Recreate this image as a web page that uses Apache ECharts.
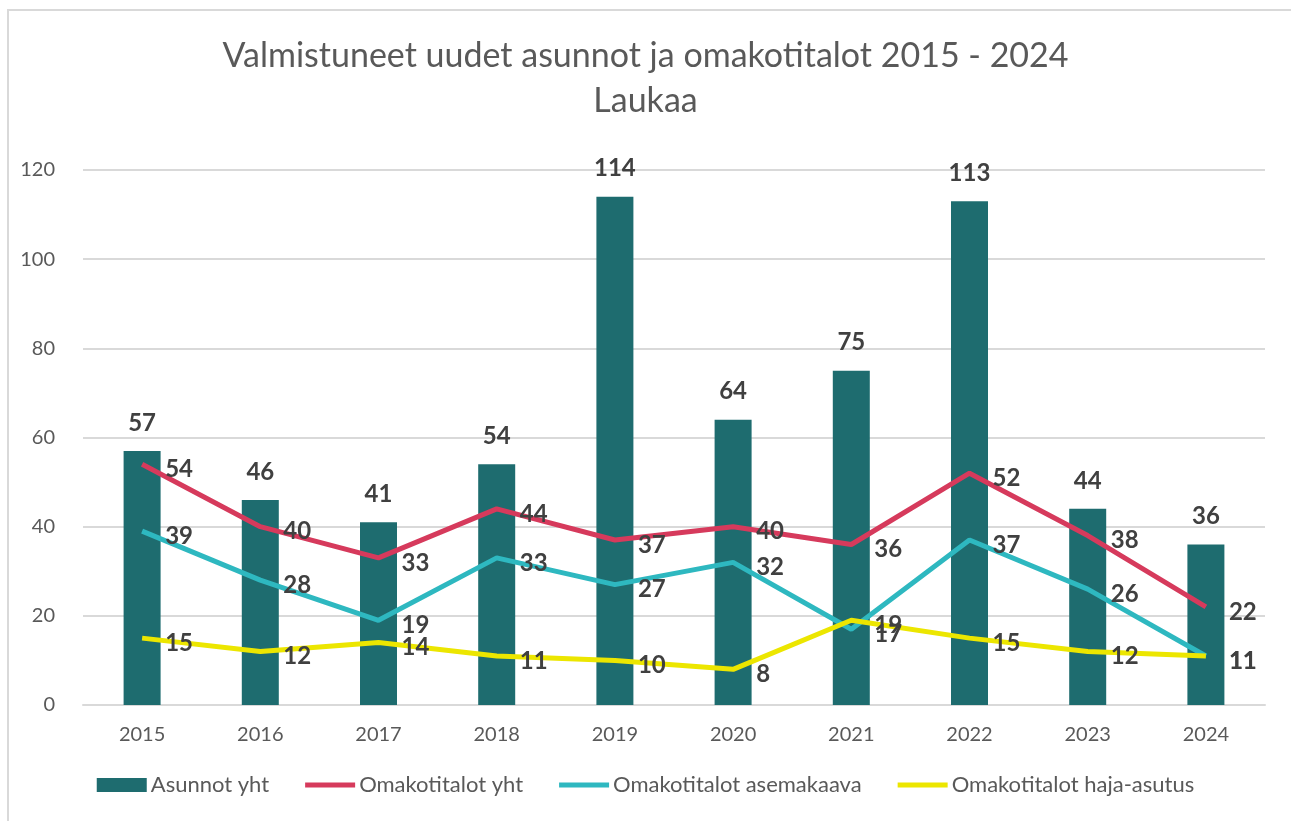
<!DOCTYPE html>
<html>
<head>
<meta charset="utf-8">
<script src="https://cdn.jsdelivr.net/npm/echarts@6/dist/echarts.min.js"></script>
<style>
  html, body { margin: 0; padding: 0; background: #fff; }
  #frame {
    position: absolute; left: 7px; top: 9px; width: 1284px; height: 812px;
    border-left: 2px solid #d9d9d9; border-top: 2px solid #d9d9d9;
  }
  #el { position: absolute; left: 0; top: 0; width: 1291px; height: 821px; }
</style>
</head>
<body>
<div id="frame"></div>
<div id="el"></div>
<script>
// data
const years = ['2015', '2016', '2017', '2018', '2019', '2020', '2021', '2022', '2023', '2024']
const asunnotYht = [57, 46, 41, 54, 114, 64, 75, 113, 44, 36]
const omakotiYht = [54, 40, 33, 44, 37, 40, 36, 52, 38, 22]
const omakotiAsemakaava = [39, 28, 19, 33, 27, 32, 17, 37, 26, 11]
const omakotiHaja = [15, 12, 14, 11, 10, 8, 19, 15, 12, 11]

const font = 'Lato, "Open Sans", sans-serif'
const labelStyle = {
  show: true,
  fontSize: 24,
  fontWeight: 'bold',
  color: '#404040',
  fontFamily: font
}
const lineIcon = 'path://M0,0 L50,0 L50,5 L0,5 Z'

// line series helper
let lineSeries = (name, data, color) => ({
  name: name,
  type: 'line',
  data: data,
  symbol: 'circle',
  symbolSize: 0.1,
  lineStyle: { width: 5, color: color },
  itemStyle: { color: color },
  label: Object.assign({}, labelStyle, { position: 'right', distance: 23, offset: [0, 5] }),
  z: 3
})

const chart = echarts.init(document.getElementById('el'))
const option = {
  animation: false,
  backgroundColor: 'transparent',
  title: {
    text: 'Valmistuneet uudet asunnot ja omakotitalot 2015 - 2024\nLaukaa',
    left: 'center',
    top: 29,
    textStyle: {
      fontFamily: font,
      fontSize: 34,
      fontWeight: 'normal',
      color: '#595959',
      lineHeight: 45
    }
  },
  legend: {
    bottom: 20,
    left: 'center',
    itemGap: 36,
    itemWidth: 50,
    itemHeight: 14,
    textStyle: { fontFamily: font, fontSize: 22, color: '#595959', padding: [0, 0, 0, -1] },
    data: [
      { name: 'Asunnot yht', icon: 'rect' },
      { name: 'Omakotitalot yht', icon: lineIcon, itemHeight: 6 },
      { name: 'Omakotitalot asemakaava', icon: lineIcon, itemHeight: 6 },
      { name: 'Omakotitalot haja-asutus', icon: lineIcon, itemHeight: 6 }
    ]
  },
  grid: { left: 83, right: 26, top: 170, bottom: 116 },
  xAxis: {
    type: 'category',
    data: years,
    axisTick: { show: false },
    axisLine: { lineStyle: { color: '#d9d9d9', width: 2 } },
    axisLabel: { fontFamily: font, fontSize: 20, color: '#595959', margin: 20 }
  },
  yAxis: {
    type: 'value',
    min: 0,
    max: 120,
    interval: 20,
    axisLabel: { fontFamily: font, fontSize: 20, color: '#595959', margin: 28 },
    splitLine: { lineStyle: { color: '#d9d9d9', width: 2 } }
  },
  series: [
    {
      name: 'Asunnot yht',
      type: 'bar',
      data: asunnotYht,
      barWidth: 37,
      itemStyle: { color: '#1e6c6f' },
      label: Object.assign({}, labelStyle, { position: 'top', distance: 16 }),
      z: 2
    },
    lineSeries('Omakotitalot yht', omakotiYht, '#d63a5c'),
    lineSeries('Omakotitalot asemakaava', omakotiAsemakaava, '#2eb8c0'),
    lineSeries('Omakotitalot haja-asutus', omakotiHaja, '#ece600')
  ]
}
chart.setOption(option)
</script>
</body>
</html>
